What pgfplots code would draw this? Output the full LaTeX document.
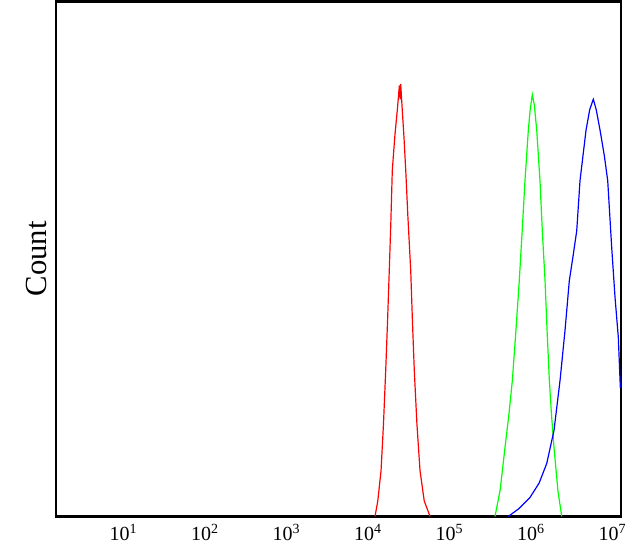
\documentclass[border=0pt]{standalone}
\usepackage{pgfplots}
\pgfplotsset{compat=1.18}
\usepackage{fontspec}
\setmainfont{Liberation Serif}
\begin{document}
\begin{tikzpicture}
\begin{axis}[
  scale only axis,
  width=423.75pt, height=386.25pt,
  xmin=0.172, xmax=7.104, ymin=0, ymax=100,
  axis line style={line width=2.2pt},
  xtick={1,2,3,4,5,6,7},
  xticklabels={10\textsuperscript{1},10\textsuperscript{2},10\textsuperscript{3},10\textsuperscript{4},10\textsuperscript{5},10\textsuperscript{6},10\textsuperscript{7}},
  major tick length=0pt,
  ytick=\empty,
  xticklabel style={font=\fontsize{15}{17}\selectfont, yshift=-2.5pt},
  ylabel={Count},
  every axis y label/.style={at={(axis description cs:0,0.5)}, rotate=90, anchor=center, yshift=15pt, font=\fontsize{23}{27}\selectfont},
  clip=true,
]
\addplot[red, line width=0.9pt] coordinates {
(4.086,0) (4.12,3) (4.160,8.9) (4.19,18) (4.217,28.3) (4.24,38) (4.261,47.8)
(4.28,57) (4.298,67.2) (4.33,74) (4.36,79) (4.385,83.7) (4.395,81) (4.401,84.0)
(4.42,79) (4.44,74) (4.463,67.2) (4.49,58) (4.524,47.8) (4.545,38) (4.568,28.3)
(4.60,18) (4.638,8.9) (4.69,3) (4.761,0)
};
\addplot[green, line width=0.9pt] coordinates {
(5.558,0) (5.62,5) (5.681,13.4) (5.73,20) (5.771,26.4) (5.81,35) (5.856,45.8)
(5.89,55) (5.926,65.2) (5.967,75.0) (5.99,79) (6.016,81.9) (6.04,80) (6.070,75.0)
(6.110,65.2) (6.14,55) (6.172,45.8) (6.20,35) (6.225,26.4) (6.25,20) (6.282,13.4)
(6.33,5) (6.377,0)
};
\addplot[blue, line width=0.9pt] coordinates {
(5.721,0) (5.85,1.5) (5.988,3.7) (6.10,6.5) (6.193,10.3) (6.282,16.7) (6.356,26.4)
(6.417,36.1) (6.470,45.8) (6.52,51) (6.561,55.5) (6.601,65.2) (6.675,75.0) (6.72,79)
(6.764,81.0) (6.80,79) (6.847,75.0) (6.90,70) (6.941,65.2) (6.990,52.2) (7.031,42.5)
(7.071,34.8) (7.096,25.0)
};
\end{axis}
\path ([shift={(-42pt,-29.25pt)}]current axis.south west) rectangle ([shift={(15pt,0.75pt)}]current axis.north east);
\end{tikzpicture}
\end{document}
